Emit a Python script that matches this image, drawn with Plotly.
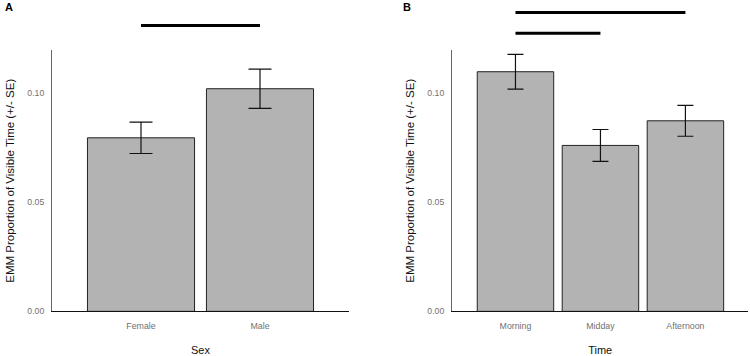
import plotly.graph_objects as go

# Data
sex_cats = ["Female", "Male"]
sex_emm = [0.0796, 0.1021]
sex_se = [0.0072, 0.0090]

time_cats = ["Morning", "Midday", "Afternoon"]
time_emm = [0.1099, 0.0761, 0.0874]
time_se = [0.0080, 0.0073, 0.0071]

y_ticks = [0.00, 0.05, 0.10]
y_ticktext = ["0.00", "0.05", "0.10"]

# significance brackets: (start category, end category, paper y)
sig_a = [("Female", "Male", 0.927)]
sig_b = [("Morning", "Afternoon", 0.9643), ("Morning", "Midday", 0.9053)]

W, H = 750, 356
FONT = "Liberation Sans, Arial, sans-serif"

fig = go.Figure()

fig.add_trace(go.Bar(
    x=sex_cats, y=sex_emm, width=0.9,
    marker=dict(color="#b3b3b3", line=dict(color="#222222", width=1)),
    error_y=dict(type="data", array=sex_se, color="#111111", thickness=1.2, width=11.5),
    xaxis="x", yaxis="y", showlegend=False,
))
fig.add_trace(go.Bar(
    x=time_cats, y=time_emm, width=0.9,
    marker=dict(color="#b3b3b3", line=dict(color="#222222", width=1)),
    error_y=dict(type="data", array=time_se, color="#111111", thickness=1.2, width=8),
    xaxis="x2", yaxis="y2", showlegend=False,
))

ydom = [(H - 316.7) / H, (H - 51) / H]

common_y = dict(
    range=[0, 0.1198], tickvals=y_ticks, ticktext=y_ticktext,
    showgrid=False, zeroline=False, showline=True, linecolor="#666666", linewidth=1,
    ticks="outside", ticklen=5, tickcolor="rgba(0,0,0,0)",
    tickfont=dict(family=FONT, size=8.7, color="#707070"),
    title=dict(text="EMM Proportion of Visible Time (+/- SE)",
               font=dict(family=FONT, size=11.5, color="#111111"), standoff=10),
    domain=ydom,
)
common_x = dict(
    showgrid=False, zeroline=False, showline=True, linecolor="#111111", linewidth=1,
    ticks="outside", ticklen=6, tickcolor="rgba(0,0,0,0)",
    tickfont=dict(family=FONT, size=8.8, color="#707070"),
)

fig.update_layout(
    width=W, height=H, margin=dict(l=0, r=0, t=0, b=0),
    paper_bgcolor="white", plot_bgcolor="white",
    font=dict(family=FONT),
    bargap=0.1,
    xaxis=dict(common_x, domain=[52 / W, 349 / W], range=[-0.748, 1.748],
               anchor="y",
               title=dict(text="Sex", font=dict(family=FONT, size=11, color="#111111"), standoff=17)),
    yaxis=dict(common_y, anchor="x"),
    xaxis2=dict(common_x, domain=[452 / W, 748.3 / W], range=[-0.747, 2.74],
                anchor="y2",
                title=dict(text="Time", font=dict(family=FONT, size=11, color="#111111"), standoff=17)),
    yaxis2=dict(common_y, anchor="x2"),
)

for (a, b, yp) in sig_a:
    fig.add_shape(type="line", xref="x", yref="paper", x0=a, x1=b, y0=yp, y1=yp,
                  line=dict(color="black", width=3))
for (a, b, yp) in sig_b:
    fig.add_shape(type="line", xref="x2", yref="paper", x0=a, x1=b, y0=yp, y1=yp,
                  line=dict(color="black", width=3))

fig.add_annotation(text="<b>A</b>", x=3 / W, y=(H - 7) / H, xref="paper", yref="paper",
                   xanchor="left", yanchor="middle", showarrow=False,
                   font=dict(family=FONT, size=11, color="black"))
fig.add_annotation(text="<b>B</b>", x=401 / W, y=(H - 7) / H, xref="paper", yref="paper",
                   xanchor="left", yanchor="middle", showarrow=False,
                   font=dict(family=FONT, size=11, color="black"))

fig.write_html("out.html")
